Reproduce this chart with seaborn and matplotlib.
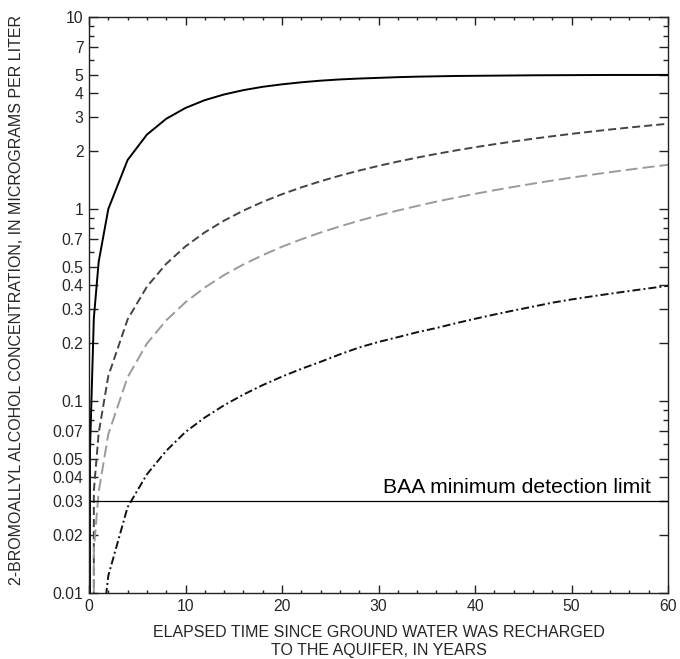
import numpy as np
import pandas as pd
import matplotlib
matplotlib.use("Agg")
import matplotlib.pyplot as plt
import seaborn as sns
from matplotlib.ticker import FixedLocator, FixedFormatter, NullFormatter

# ---------------- data ----------------
t_grid = [0, 0.5, 1, 2, 4, 6, 8, 10, 12, 14, 16, 18, 20, 22, 24, 26, 28, 30,
          32, 34, 36, 38, 40, 42, 44, 46, 48, 50, 52, 54, 56, 58, 60]

t_solid = [0, 0.1, 0.5, 1, 2, 4, 6, 8, 10, 12, 14, 16, 18, 20, 22, 24, 26, 28, 30,
           32, 34, 36, 38, 40, 42, 44, 46, 48, 50, 52, 54, 56, 58, 60]
c_solid = [0, 0.055, 0.27, 0.53, 1.0, 1.80, 2.44, 2.95, 3.36, 3.69, 3.95, 4.16,
           4.33, 4.46, 4.57, 4.66, 4.73, 4.78, 4.82, 4.86, 4.89, 4.91, 4.93, 4.94,
           4.95, 4.96, 4.97, 4.975, 4.98, 4.985, 4.99, 4.99, 4.99, 4.995]

c_dark_dashed = [0, 0.034, 0.068, 0.135, 0.266, 0.394, 0.518, 0.639, 0.756, 0.870,
                 0.981, 1.089, 1.194, 1.296, 1.395, 1.492, 1.586, 1.677, 1.766,
                 1.852, 1.936, 2.018, 2.097, 2.174, 2.249, 2.322, 2.393, 2.462,
                 2.529, 2.594, 2.657, 2.719, 2.779]

c_gray_dashed = [0, 0.0168, 0.0336, 0.0672, 0.133, 0.199, 0.263, 0.327, 0.390, 0.453,
                 0.514, 0.575, 0.636, 0.695, 0.754, 0.812, 0.869, 0.926, 0.982,
                 1.037, 1.092, 1.146, 1.199, 1.252, 1.304, 1.355, 1.406, 1.457,
                 1.506, 1.555, 1.604, 1.652, 1.699]

t_dashdot = [0, 1, 2, 4, 6, 8, 10, 12, 14, 16, 18, 20, 22, 24, 26, 28, 30,
             32, 34, 36, 38, 40, 42, 44, 46, 48, 50, 52, 54, 56, 58, 60]
c_dashdot = [0, 0.0045, 0.0123, 0.028, 0.0415, 0.055, 0.069, 0.082, 0.095, 0.108,
             0.121, 0.134, 0.147, 0.160, 0.175, 0.190, 0.203, 0.215, 0.228, 0.240,
             0.254, 0.268, 0.282, 0.296, 0.310, 0.325, 0.338, 0.350, 0.362, 0.374,
             0.386, 0.398]

detection_limit = 0.03
detection_label = "BAA minimum detection limit"

y_major = [0.01, 0.02, 0.03, 0.04, 0.05, 0.07, 0.1, 0.2, 0.3, 0.4, 0.5, 0.7,
           1, 2, 3, 4, 5, 7, 10]
y_major_labels = ["0.01", "0.02", "0.03", "0.04", "0.05", "0.07", "0.1", "0.2",
                  "0.3", "0.4", "0.5", "0.7", "1", "2", "3", "4", "5", "7", "10"]
y_minor = [0.06, 0.08, 0.09, 0.6, 0.8, 0.9, 6, 8, 9]
x_major = [0, 10, 20, 30, 40, 50, 60]
x_minor = list(range(0, 61, 2))

x_label = "ELAPSED TIME SINCE GROUND WATER WAS RECHARGED\nTO THE AQUIFER, IN YEARS"
y_label = "2-BROMOALLYL ALCOHOL CONCENTRATION, IN MICROGRAMS PER LITER"

# ---------------- style ----------------
sns.set_theme(style="white")
plt.rcParams["font.family"] = ["Liberation Sans", "DejaVu Sans"]
plt.rcParams["lines.scale_dashes"] = False
plt.rcParams["axes.edgecolor"] = "#222222"

fig = plt.figure(figsize=(6.8, 6.59), dpi=100)
ax = fig.add_axes([0.1309, 0.1002, 0.8515, 0.874])

df_solid = pd.DataFrame({"t": t_solid, "c": c_solid})
df_dark = pd.DataFrame({"t": t_grid, "c": c_dark_dashed})
df_gray = pd.DataFrame({"t": t_grid, "c": c_gray_dashed})
df_dd = pd.DataFrame({"t": t_dashdot, "c": c_dashdot})

sns.lineplot(data=df_solid, x="t", y="c", ax=ax, color="black", lw=1.4,
             estimator=None, sort=False)
sns.lineplot(data=df_dark, x="t", y="c", ax=ax, color="#444444", lw=1.4,
             linestyle=(0, (5.8, 2.9)), estimator=None, sort=False)
sns.lineplot(data=df_gray, x="t", y="c", ax=ax, color="#9a9a9a", lw=1.4,
             linestyle=(0, (8.6, 3.6)), estimator=None, sort=False)
sns.lineplot(data=df_dd, x="t", y="c", ax=ax, color="#111111", lw=1.4,
             linestyle=(0, (5.8, 2.2, 1.4, 2.2)), estimator=None, sort=False)

ax.axhline(detection_limit, color="black", lw=0.9)
ax.text(58.2, detection_limit * 1.06, detection_label, ha="right", va="bottom",
        fontsize=15.2, color="black")

ax.set_yscale("log", nonpositive="clip")
ax.set_xlim(0, 60)
ax.set_ylim(0.01, 10)

ax.yaxis.set_major_locator(FixedLocator(y_major))
ax.yaxis.set_major_formatter(FixedFormatter(y_major_labels))
ax.yaxis.set_minor_locator(FixedLocator(y_minor))
ax.yaxis.set_minor_formatter(NullFormatter())
ax.xaxis.set_major_locator(FixedLocator(x_major))
ax.xaxis.set_minor_locator(FixedLocator(x_minor))

ax.tick_params(which="both", direction="in", top=True, right=True,
               bottom=True, left=True, color="#222222", width=1.0)
ax.tick_params(axis="y", which="major", length=6.5, labelsize=11.3, pad=4)
ax.tick_params(axis="y", which="minor", length=3.5)
ax.tick_params(axis="x", which="major", length=5.5, labelsize=11.3, pad=4)
ax.tick_params(axis="x", which="minor", length=2.5)

for s in ax.spines.values():
    s.set_linewidth(1.0)

ax.set_xlabel(x_label, fontsize=11.5, labelpad=8, linespacing=1.3)
ax.set_ylabel(y_label, fontsize=11.5)
ax.yaxis.set_label_coords(-0.112, 0.509)

fig.savefig("out.png", dpi=100)
